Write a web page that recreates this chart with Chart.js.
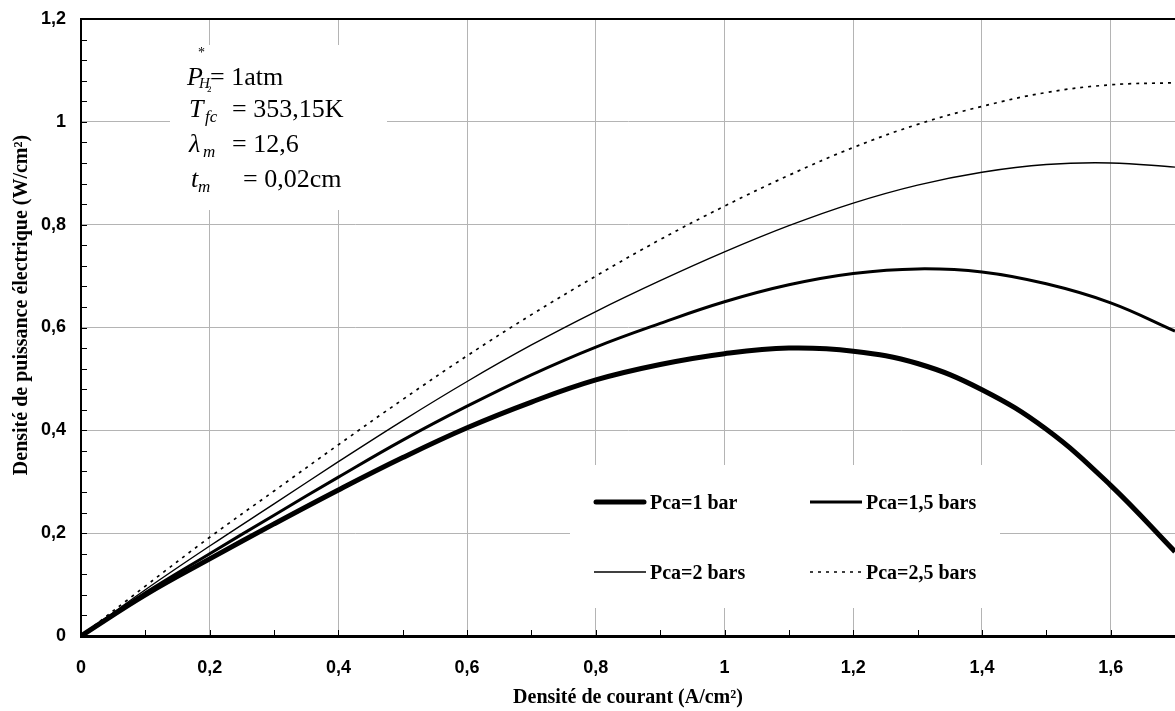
<!DOCTYPE html>
<html>
<head>
<meta charset="utf-8">
<script src="https://cdn.jsdelivr.net/npm/chart.js@4.4.1/dist/chart.umd.min.js"></script>
<style>
html,body{margin:0;padding:0;background:#fff;}
#wrap{position:relative;width:1175px;height:711px;}
</style>
</head>
<body>
<div id="wrap"><canvas id="c" width="1175" height="711"></canvas></div>
<script>
// ---- data ----
const currentDensity = [0,0.1,0.2,0.3,0.4,0.5,0.6,0.7,0.8,0.9,1.0,1.1,1.2,1.3,1.4,1.5,1.6,1.7];
const pca1bar   = [0,0.080,0.150,0.218,0.284,0.347,0.405,0.455,0.498,0.528,0.549,0.560,0.554,0.530,0.479,0.402,0.293,0.164];
const pca15bars = [0,0.084,0.160,0.235,0.309,0.381,0.447,0.508,0.562,0.608,0.650,0.683,0.705,0.714,0.708,0.685,0.648,0.593];
const pca2bars  = [0,0.090,0.175,0.257,0.339,0.419,0.495,0.566,0.631,0.691,0.747,0.798,0.842,0.877,0.902,0.917,0.920,0.912];
const pca25bars = [0,0.097,0.192,0.282,0.372,0.460,0.545,0.625,0.700,0.771,0.836,0.896,0.950,0.995,1.030,1.057,1.072,1.076];
const seriesLabels = ['Pca=1 bar','Pca=1,5 bars','Pca=2 bars','Pca=2,5 bars'];
const xTickLabels = ['0','0,2','0,4','0,6','0,8','1','1,2','1,4','1,6'];
const yTickLabels = ['0','0,2','0,4','0,6','0,8','1','1,2'];
const xTitle = 'Densité de courant (A/cm²)';
const yTitle = 'Densité de puissance électrique (W/cm²)';

const pts = arr => currentDensity.map((x,i)=>({x:x,y:arr[i]}));
const isMajor = v => Math.abs(v/0.2 - Math.round(v/0.2)) < 1e-6;
const GRID = '#b4b4b4';
const SERIF = '"Liberation Serif","Times New Roman",serif';
const SANS = '"Liberation Sans",Arial,sans-serif';

const styles = [
  {borderWidth:5, borderDash:[]},
  {borderWidth:3, borderDash:[]},
  {borderWidth:1.4, borderDash:[]},
  {borderWidth:1.7, borderDash:[3,5]}
];
const seriesData = [pca1bar,pca15bars,pca2bars,pca25bars];

const decorPlugin = {
  id:'decor',
  beforeDatasetsDraw(chart){
    const c = chart.ctx, a = chart.chartArea;
    c.save();
    // top border
    c.strokeStyle='#000'; c.lineWidth=2;
    c.beginPath(); c.moveTo(a.left, a.top); c.lineTo(a.right, a.top); c.stroke();
    // inward minor ticks
    c.lineWidth=1;
    const xs = chart.scales.x, ys = chart.scales.y;
    ys.ticks.forEach(t=>{ const y = Math.round(ys.getPixelForValue(t.value))+0.5;
      c.beginPath(); c.moveTo(a.left, y); c.lineTo(a.left+6, y); c.stroke(); });
    xs.ticks.forEach(t=>{ const x = Math.round(xs.getPixelForValue(t.value))+0.5;
      c.beginPath(); c.moveTo(x, a.bottom); c.lineTo(x, a.bottom-6); c.stroke(); });
    // y axis title
    c.save();
    c.translate(27, 305); c.rotate(-Math.PI/2);
    c.font = 'bold 20px '+SERIF; c.fillStyle='#000'; c.textAlign='center'; c.textBaseline='alphabetic';
    c.fillText(yTitle, 0, 0);
    c.restore();
    // parameter box
    c.fillStyle='#fff';
    c.fillRect(170,45,217,165);
    // legend box
    c.fillRect(570,465,430,143);
    c.fillStyle='#000';
    c.textBaseline='alphabetic'; c.textAlign='left';
    const it = s => 'italic '+s+'px '+SERIF, rm = s => s+'px '+SERIF;
    const put = (txt, x, y, f) => { c.font=f; c.fillText(txt, x, y); };
    put('*', 198, 57, rm(14));
    put('P', 187, 85, it(26)); put('H', 199, 88, it(15)); put('2', 207, 92, rm(9)); put('= 1atm', 210, 85, rm(26));
    put('T', 189, 117, it(26)); put('fc', 205, 122, it(17)); put('= 353,15K', 232, 117, rm(26));
    put('λ', 189, 152, it(26)); put('m', 203, 157, it(17)); put('= 12,6', 232, 152, rm(26));
    put('t', 191, 187, it(26)); put('m', 198, 192, it(17)); put('= 0,02cm', 243, 187, rm(26));
    // legend entries
    const pos = [[594,502],[810,502],[594,572],[810,572]];
    chart.data.datasets.forEach((ds,i)=>{
      const [lx,ly] = pos[i];
      c.strokeStyle = ds.borderColor; c.lineWidth = ds.borderWidth;
      c.setLineDash(ds.borderDash||[]); c.lineCap = i===0 ? 'round':'butt';
      c.beginPath(); c.moveTo(lx+(i===0?2:0), ly); c.lineTo(lx+52-(i===0?2:0), ly); c.stroke();
      c.setLineDash([]);
      c.font = 'bold 20px '+SERIF; c.fillStyle='#000';
      c.fillText(ds.label, lx+56, ly+7);
    });
    c.restore();
  }
};

new Chart(document.getElementById('c'), {
  type:'line',
  data:{
    datasets: seriesData.map((d,i)=>({
      label: seriesLabels[i],
      data: pts(d),
      borderColor:'#000',
      borderWidth: styles[i].borderWidth,
      borderDash: styles[i].borderDash,
      pointRadius:0,
      fill:false,
      tension:0.4
    }))
  },
  options:{
    responsive:false,
    animation:false,
    layout:{padding:{top:19,right:0,left:0,bottom:0}},
    plugins:{legend:{display:false}, tooltip:{enabled:false}},
    scales:{
      x:{
        type:'linear', min:0, max:1.7,
        afterFit(s){ s.height = 75; s.paddingRight = 0; s.paddingLeft = 0; },
        ticks:{ stepSize:0.1, autoSkip:false, maxRotation:0, padding:21, color:'#000',
          font:{family:SANS, weight:'bold', size:18},
          callback:(v)=> isMajor(v) ? xTickLabels[Math.round(v/0.2)] : '' },
        grid:{ drawTicks:false, color:(ctx)=> (ctx.tick && isMajor(ctx.tick.value)) ? GRID : 'rgba(0,0,0,0)', lineWidth:1 },
        border:{ color:'#000', width:3 },
        title:{ display:true, text:xTitle, color:'#000', padding:{top:0,bottom:1},
          font:{family:SERIF, weight:'bold', size:20} }
      },
      y:{
        type:'linear', min:0, max:1.2,
        afterFit(s){ s.width = 81; s.paddingTop = 0; s.paddingBottom = 0; },
        ticks:{ stepSize:0.04, autoSkip:false, padding:15, color:'#000',
          font:{family:SANS, weight:'bold', size:18},
          callback:(v)=> isMajor(v) ? yTickLabels[Math.round(v/0.2)] : '' },
        grid:{ drawTicks:false, color:(ctx)=> (ctx.tick && isMajor(ctx.tick.value)) ? GRID : 'rgba(0,0,0,0)', lineWidth:1 },
        border:{ color:'#000', width:2 },
        title:{ display:false }
      }
    }
  },
  plugins:[decorPlugin]
});
</script>
</body>
</html>
